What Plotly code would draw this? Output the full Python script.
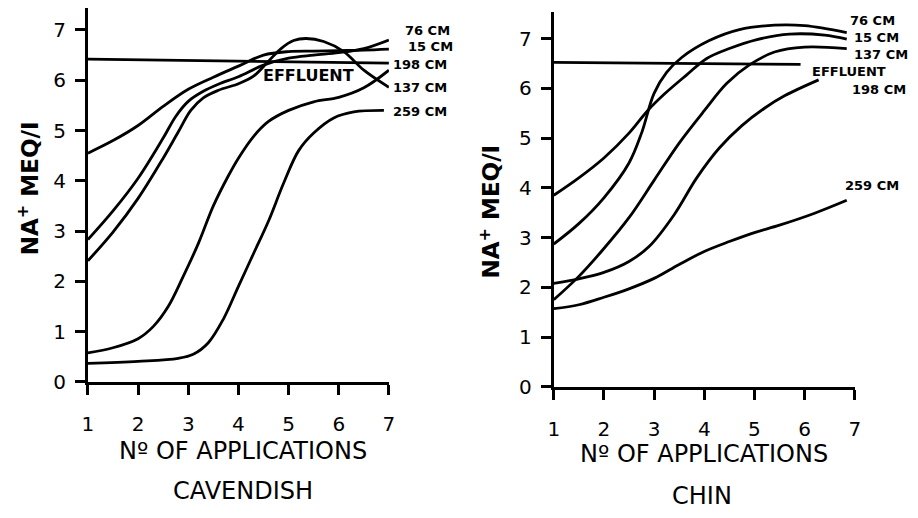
import plotly.graph_objects as go

# ---------------- DATA ----------------
# Cavendish (left panel)
cav_15_x = [1, 1.5, 2, 2.5, 3, 3.5, 4, 4.5, 5, 5.5, 6, 6.5, 7]
cav_15_y = [4.55, 4.80, 5.10, 5.48, 5.82, 6.06, 6.28, 6.50, 6.57, 6.58, 6.59, 6.60, 6.62]
cav_76_x = [1, 1.5, 2, 2.5, 2.75, 3.0, 3.3, 3.6, 4, 4.5, 5, 5.5, 6, 6.5, 7]
cav_76_y = [2.83, 3.40, 4.05, 4.85, 5.28, 5.58, 5.78, 5.92, 6.07, 6.30, 6.44, 6.50, 6.55, 6.63, 6.80]
cav_137_x = [1, 1.5, 2, 2.5, 2.8, 3.05, 3.3, 3.6, 4, 4.3, 4.6, 4.85, 5.1, 5.35, 5.7, 6.1, 6.5, 7]
cav_137_y = [2.41, 2.98, 3.65, 4.45, 4.97, 5.40, 5.65, 5.80, 5.93, 6.08, 6.38, 6.63, 6.79, 6.83, 6.77, 6.57, 6.20, 5.86]
cav_198_x = [1, 1.5, 2, 2.3, 2.6, 2.9, 3.2, 3.5, 3.8, 4, 4.3, 4.6, 5, 5.5, 6, 6.5, 7]
cav_198_y = [0.58, 0.68, 0.86, 1.10, 1.50, 2.10, 2.75, 3.50, 4.10, 4.45, 4.88, 5.18, 5.40, 5.57, 5.66, 5.85, 6.20]
cav_259_x = [1, 2, 2.8, 3.1, 3.4, 3.7, 4, 4.3, 4.6, 4.9, 5.2, 5.5, 5.9, 6.3, 6.9]
cav_259_y = [0.37, 0.41, 0.47, 0.55, 0.78, 1.25, 1.90, 2.55, 3.20, 3.95, 4.60, 4.95, 5.25, 5.37, 5.40]
cav_eff_x = [1, 7]
cav_eff_y = [6.42, 6.34]

# Chin (right panel)
chin_76_x = [1, 1.5, 2, 2.5, 2.75, 3.0, 3.25, 3.55, 4.1, 4.7, 5.4, 6.0, 6.84]
chin_76_y = [2.87, 3.28, 3.80, 4.50, 5.10, 5.90, 6.32, 6.62, 6.96, 7.18, 7.27, 7.26, 7.12]
chin_15_x = [1, 1.5, 2, 2.5, 2.87, 3.2, 3.65, 4.05, 4.5, 5.05, 5.7, 6.4, 6.84]
chin_15_y = [3.85, 4.20, 4.60, 5.10, 5.55, 5.88, 6.27, 6.60, 6.80, 6.98, 7.09, 7.07, 6.99]
chin_137_x = [1, 1.5, 2, 2.5, 3, 3.5, 4, 4.45, 4.9, 5.4, 6.0, 6.84]
chin_137_y = [1.75, 2.22, 2.78, 3.40, 4.15, 4.90, 5.55, 6.10, 6.47, 6.73, 6.83, 6.80]
chin_198_x = [1, 1.5, 2, 2.5, 2.9, 3.4, 3.85, 4.3, 4.75, 5.2, 5.6, 6.28]
chin_198_y = [2.08, 2.17, 2.30, 2.52, 2.82, 3.46, 4.20, 4.80, 5.25, 5.60, 5.85, 6.17]
chin_259_x = [1, 1.5, 2, 2.5, 3, 3.5, 4, 4.5, 5, 5.5, 6.2, 6.84]
chin_259_y = [1.57, 1.65, 1.80, 1.97, 2.18, 2.46, 2.72, 2.92, 3.10, 3.25, 3.49, 3.75]
chin_eff_x = [1, 5.92]
chin_eff_y = [6.52, 6.48]

x_ticks = [1, 2, 3, 4, 5, 6, 7]
y_ticks = [0, 1, 2, 3, 4, 5, 6, 7]

cav_label_texts = ["76 CM", "15 CM", "198 CM", "137 CM", "259 CM"]
chin_label_texts = ["76 CM", "15 CM", "137 CM", "EFFLUENT", "198 CM", "259 CM"]
effluent_text = "EFFLUENT"
x_title = "Nº OF APPLICATIONS"
y_title = "NA<sup>+</sup> MEQ/I"
panel_titles = ["CAVENDISH", "CHIN"]

# ---------------- LAYOUT CONSTANTS (pixel positions) ----------------
W, H = 918, 518
FONT = "DejaVu Sans"
cav_label_pos = [(402, 31), (405, 48), (390, 66), (390, 90), (390, 114)]
chin_label_pos = [(853, 21), (857, 38), (857, 56), (815, 73), (855, 92), (848, 190)]

fig = go.Figure()

def add_curve(x, y, name, xa, ya, shape="spline"):
    fig.add_trace(go.Scatter(x=x, y=y, mode="lines", name=name, xaxis=xa, yaxis=ya,
                             line=dict(color="black", width=2.8, shape=shape, smoothing=1.0),
                             showlegend=False, hoverinfo="skip"))

add_curve(cav_eff_x, cav_eff_y, "Effluent", "x", "y", "linear")
add_curve(cav_15_x, cav_15_y, "15 cm", "x", "y")
add_curve(cav_76_x, cav_76_y, "76 cm", "x", "y")
add_curve(cav_137_x, cav_137_y, "137 cm", "x", "y")
add_curve(cav_198_x, cav_198_y, "198 cm", "x", "y")
add_curve(cav_259_x, cav_259_y, "259 cm", "x", "y")

add_curve(chin_eff_x, chin_eff_y, "Effluent", "x2", "y2", "linear")
add_curve(chin_76_x, chin_76_y, "76 cm", "x2", "y2")
add_curve(chin_15_x, chin_15_y, "15 cm", "x2", "y2")
add_curve(chin_137_x, chin_137_y, "137 cm", "x2", "y2")
add_curve(chin_198_x, chin_198_y, "198 cm", "x2", "y2")
add_curve(chin_259_x, chin_259_y, "259 cm", "x2", "y2")

axis_common = dict(showgrid=False, zeroline=False, showline=True, linecolor="black",
                   linewidth=3, ticks="outside", ticklen=10, tickwidth=3, tickcolor="black",
                   tickfont=dict(family=FONT, size=20, color="black"), fixedrange=True)

fig.update_layout(
    width=W, height=H, margin=dict(l=0, r=0, t=0, b=0),
    paper_bgcolor="white", plot_bgcolor="white", showlegend=False,
    xaxis=dict(domain=[83 / W, 388 / W], range=[1, 7], tickvals=x_ticks,
               anchor="y", ticklabelstandoff=12, **axis_common),
    yaxis=dict(domain=[1 - 391 / H, 1 - 8 / H], range=[0, 7.44], tickvals=y_ticks,
               anchor="x", ticklabelstandoff=5, **axis_common),
    xaxis2=dict(domain=[555 / W, 860 / W], range=[1, 7], tickvals=x_ticks,
                anchor="y2", ticklabelstandoff=12, **axis_common),
    yaxis2=dict(domain=[1 - 396 / H, 1 - 12 / H], range=[0, 7.54], tickvals=y_ticks,
                anchor="x2", ticklabelstandoff=5, **axis_common),
)

def paper_text(text, px, py, angle=0, size=24, xanchor="center", bold=False):
    fig.add_annotation(text=("<b>%s</b>" % text) if bold else text,
                       x=px / W, y=1 - py / H, xref="paper", yref="paper",
                       xanchor=xanchor, yanchor="middle", showarrow=False,
                       textangle=angle, font=dict(family=FONT, size=size, color="black"))

for t, (px, py) in zip(cav_label_texts, cav_label_pos):
    paper_text(t, px, py, size=13, xanchor="left", bold=True)
paper_text(effluent_text, 307, 77, size=16, bold=True)
for t, (px, py) in zip(chin_label_texts, chin_label_pos):
    paper_text(t, px, py, size=13, xanchor="left", bold=True)

paper_text(x_title, 240, 462, size=24)
paper_text(x_title, 707, 465, size=24)
paper_text(panel_titles[0], 240, 503, size=24)
paper_text(panel_titles[1], 705, 508, size=24)
paper_text(y_title, 22, 193, angle=-90, size=23, bold=True)
paper_text(y_title, 490, 217, angle=-90, size=23, bold=True)

fig.write_html("out.html")
